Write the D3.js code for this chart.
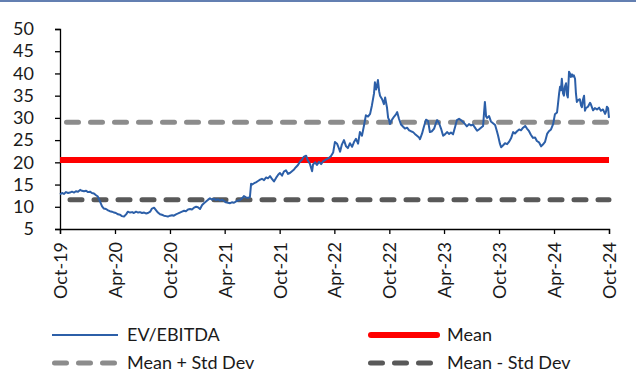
<!DOCTYPE html>
<html>
<head>
<meta charset="utf-8">
<script src="https://cdn.jsdelivr.net/npm/d3@7/dist/d3.min.js"></script>
<style>
  body { margin: 0; background: #ffffff; }
  svg { display: block; }
  text { font-family: Lato, "Open Sans", sans-serif; fill: #1a1a1a; }
</style>
</head>
<body>
<svg id="chart" width="636" height="374"></svg>
<script>
// Series start; each point is [days after start, EV/EBITDA multiple]
const startDate = "2019-10-01";
const endDate = "2024-10-01";

const evEbitda = [
  [0,12.8],[7,13.1],[13,12.9],[20,13.3],[27,13.1],[33,13.2],[40,13.4],[47,13.2],[53,13.5],[60,13.4],
  [67,13.8],[73,13.6],[80,13.5],[87,13.6],[93,13.3],[100,13.4],[106,13.1],[113,13.0],[120,12.6],[126,12.3],
  [133,11.2],[140,10.1],[146,9.6],[153,9.5],[160,9.2],[166,9.0],[173,8.9],[180,8.7],[186,8.6],[193,8.3],
  [200,8.2],[206,7.9],[213,7.8],[220,8.3],[226,8.9],[233,8.7],[240,8.8],[246,8.6],[253,8.9],[260,8.7],
  [266,8.8],[273,8.6],[280,8.7],[286,8.5],[293,8.6],[300,8.9],[306,9.6],[313,9.8],[320,9.2],[326,8.7],
  [333,8.3],[339,8.2],[346,8.0],[353,7.9],[359,7.8],[366,8.0],[373,8.1],[379,8.0],[386,8.3],[393,8.5],
  [399,8.7],[406,8.9],[413,9.1],[419,9.0],[426,9.4],[433,9.5],[439,9.4],[446,9.8],[453,10.0],[459,9.9],
  [466,9.5],[473,10.4],[479,10.8],[486,11.2],[493,11.6],[499,11.9],[506,11.6],[513,11.8],[519,11.5],[526,11.7],
  [532,11.4],[539,11.6],[546,11.3],[552,11.0],[559,10.9],[566,10.8],[572,11.0],[579,10.9],[586,11.2],[592,11.4],
  [599,11.5],[606,11.9],[612,12.4],[619,12.1],[626,12.0],[632,12.2],[636,15.2],[639,15.0],[646,15.3],[652,15.5],
  [659,15.8],[666,16.1],[672,16.3],[679,16.0],[686,16.6],[692,16.4],[699,16.9],[706,16.2],[712,15.7],[719,16.5],
  [726,17.2],[732,17.6],[739,17.0],[745,17.9],[752,18.2],[759,17.4],[765,17.6],[772,18.0],[779,18.4],[785,18.9],
  [792,19.4],[799,20.2],[805,20.6],[812,21.3],[819,21.5],[825,20.4],[832,19.6],[839,18.0],[842,19.5],[849,20.0],
  [855,19.4],[862,20.1],[869,19.6],[875,20.2],[882,20.5],[889,20.8],[895,21.0],[902,21.4],[909,22.2],[915,24.6],
  [922,24.2],[929,23.0],[932,22.4],[938,24.0],[945,25.0],[952,23.6],[958,23.2],[965,24.3],[972,23.5],[978,24.5],
  [985,25.3],[992,24.2],[998,26.8],[1005,26.0],[1012,28.4],[1018,30.6],[1025,30.3],[1032,30.9],[1038,32.8],[1045,35.5],
  [1048,38.0],[1052,36.4],[1055,37.3],[1058,38.5],[1062,36.0],[1065,35.0],[1072,34.2],[1078,33.1],[1082,34.6],[1085,33.5],
  [1088,32.4],[1092,30.0],[1095,29.6],[1098,28.6],[1105,29.6],[1112,30.3],[1118,30.8],[1122,31.3],[1128,29.8],[1135,28.5],
  [1142,28.0],[1148,27.6],[1155,27.8],[1162,27.2],[1168,27.0],[1175,26.8],[1181,26.4],[1188,26.0],[1195,25.6],[1198,25.2],
  [1205,26.5],[1211,28.0],[1218,29.6],[1225,29.3],[1231,26.8],[1238,27.0],[1245,27.6],[1251,28.8],[1255,29.5],[1261,28.9],
  [1268,27.6],[1275,26.0],[1281,26.3],[1288,26.8],[1295,26.4],[1301,26.7],[1308,26.3],[1315,28.0],[1321,29.5],[1328,29.8],
  [1334,29.5],[1341,29.1],[1348,28.6],[1354,28.1],[1361,28.6],[1368,28.3],[1374,28.5],[1381,27.8],[1388,27.1],[1394,27.4],
  [1401,27.8],[1408,28.2],[1411,31.0],[1414,33.6],[1418,30.3],[1421,30.0],[1428,30.4],[1434,29.2],[1441,28.8],[1448,28.4],
  [1454,27.0],[1458,26.0],[1464,24.2],[1468,23.4],[1474,23.8],[1481,24.3],[1488,24.1],[1494,24.6],[1501,25.4],[1508,26.8],
  [1514,26.5],[1521,27.0],[1528,27.4],[1534,27.2],[1541,27.8],[1548,28.2],[1554,27.6],[1561,27.0],[1567,26.2],[1574,25.5],
  [1581,25.6],[1587,24.8],[1594,24.5],[1601,23.6],[1607,24.0],[1614,24.6],[1621,26.4],[1627,27.0],[1634,27.4],[1641,28.6],
  [1647,30.8],[1654,31.2],[1657,33.0],[1661,35.5],[1664,37.0],[1667,36.2],[1670,38.8],[1674,35.5],[1677,35.0],[1680,37.0],
  [1684,37.8],[1687,35.2],[1690,34.6],[1694,40.4],[1697,40.0],[1700,39.2],[1704,39.8],[1707,39.3],[1710,39.6],[1714,38.8],
  [1717,35.5],[1720,33.6],[1724,34.0],[1730,34.2],[1734,32.8],[1737,32.4],[1740,34.0],[1744,35.0],[1747,31.6],[1750,32.2],
  [1757,32.5],[1764,33.4],[1767,33.0],[1774,31.7],[1780,32.2],[1787,31.9],[1794,32.3],[1800,31.6],[1807,31.9],[1814,30.9],
  [1817,31.4],[1820,32.5],[1824,32.2],[1827,30.0]
];

// Reference levels
const meanValue = 20.5;
const upperBand = 29.0;   // mean + one standard deviation
const lowerBand = 11.6;   // mean - one standard deviation

const yTicks = [5, 10, 15, 20, 25, 30, 35, 40, 45, 50];
const xTickLabels = ["Oct-19","Apr-20","Oct-20","Apr-21","Oct-21","Apr-22","Oct-22","Apr-23","Oct-23","Apr-24","Oct-24"];

const legendItems = [
  { key: "series", label: "EV/EBITDA" },
  { key: "mean",   label: "Mean" },
  { key: "upper",  label: "Mean + Std Dev" },
  { key: "lower",  label: "Mean - Std Dev" }
];

const colors = {
  series: "#2c5fa8",
  mean: "#ff0000",
  upper: "#8c8c8c",
  lower: "#595959",
  frame: "#2f5597"
};

const svg = d3.select("#chart");
const margin = { left: 60, right: 27, top: 29, bottom: 145 };
const W = 636, H = 374;
const plotW = W - margin.left - margin.right;
const plotH = H - margin.top - margin.bottom;

const parse = d3.utcParse("%Y-%m-%d");
const t0 = parse(startDate), t1 = parse(endDate);
const points = evEbitda.map(([d, v]) => ({ date: d3.utcDay.offset(t0, d), value: v }));

const x = d3.scaleUtc().domain([t0, t1]).range([margin.left, margin.left + plotW]);
const y = d3.scaleLinear().domain([5, 50]).range([margin.top + plotH, margin.top]);

// thin rule along the top edge
svg.append("line")
  .attr("x1", 0).attr("x2", W).attr("y1", 1).attr("y2", 1)
  .attr("stroke", colors.frame).attr("stroke-width", 1.5);

// y axis
const yAxis = svg.append("g")
  .attr("transform", `translate(${margin.left},0)`)
  .call(d3.axisLeft(y).tickValues(yTicks).tickSize(5).tickPadding(21).tickFormat(d3.format("d")));
yAxis.select(".domain").attr("stroke", "#000").attr("stroke-width", 1.3);
yAxis.selectAll(".tick line").attr("stroke", "#000").attr("stroke-width", 1.3);
yAxis.selectAll(".tick text")
  .style("font-family", "Lato, sans-serif").style("font-size", "18px").attr("fill", "#1a1a1a");

// x axis, ticks every six months
const xTickDates = xTickLabels.map((_, i) => d3.utcMonth.offset(t0, i * 6));
const xAxis = svg.append("g")
  .attr("transform", `translate(0,${margin.top + plotH})`)
  .call(d3.axisBottom(x).tickValues(xTickDates).tickSize(5).tickFormat((d, i) => xTickLabels[i]));
xAxis.select(".domain").attr("stroke", "#000").attr("stroke-width", 1.3);
xAxis.selectAll(".tick line").attr("stroke", "#000").attr("stroke-width", 1.3);
xAxis.selectAll(".tick text")
  .style("font-family", "Lato, sans-serif").style("font-size", "18px").attr("fill", "#1a1a1a")
  .attr("transform", "rotate(-90)")
  .attr("text-anchor", "end")
  .attr("x", -13).attr("y", 0).attr("dy", "0.36em");

// band lines
const dash = "12,12";
function hLine(value, color, width, dashed, offset) {
  const l = svg.append("line")
    .attr("x1", x(t0)).attr("x2", x(t1))
    .attr("y1", y(value)).attr("y2", y(value))
    .attr("stroke", color).attr("stroke-width", width);
  if (dashed) l.attr("stroke-dasharray", dash).attr("stroke-linecap", "round").attr("stroke-dashoffset", offset);
  return l;
}
hLine(upperBand, colors.upper, 5, true, -6.5);
hLine(lowerBand, colors.lower, 5, true, -10);
hLine(meanValue, colors.mean, 6, false, 0);

// EV/EBITDA series
svg.append("path")
  .datum(points)
  .attr("fill", "none")
  .attr("stroke", colors.series)
  .attr("stroke-width", 2)
  .attr("stroke-linejoin", "round")
  .attr("d", d3.line().x(d => x(d.date)).y(d => y(d.value)));

// legend, two columns by two rows
const legendPos = {
  series: { x: 52,  y: 335 },
  mean:   { x: 368, y: 335 },
  upper:  { x: 52,  y: 363 },
  lower:  { x: 368, y: 363 }
};
const legend = svg.append("g");
legendItems.forEach(item => {
  const p = legendPos[item.key];
  const g = legend.append("g").attr("transform", `translate(${p.x},${p.y})`);
  if (item.key === "series") {
    g.append("line").attr("x1", 0).attr("x2", 66).attr("stroke", colors.series).attr("stroke-width", 1.8);
  } else if (item.key === "mean") {
    g.append("line").attr("x1", 3).attr("x2", 69).attr("stroke", colors.mean).attr("stroke-width", 6)
      .attr("stroke-linecap", "round");
  } else {
    g.append("line").attr("x1", 2.5).attr("x2", 66).attr("stroke", colors[item.key]).attr("stroke-width", 5)
      .attr("stroke-dasharray", dash).attr("stroke-linecap", "round");
  }
  g.append("text")
    .attr("x", item.key === "series" || item.key === "upper" ? 75 : 79)
    .attr("dy", "0.36em")
    .style("font-family", "Lato, sans-serif").style("font-size", "18px")
    .text(item.label);
});
</script>
</body>
</html>
